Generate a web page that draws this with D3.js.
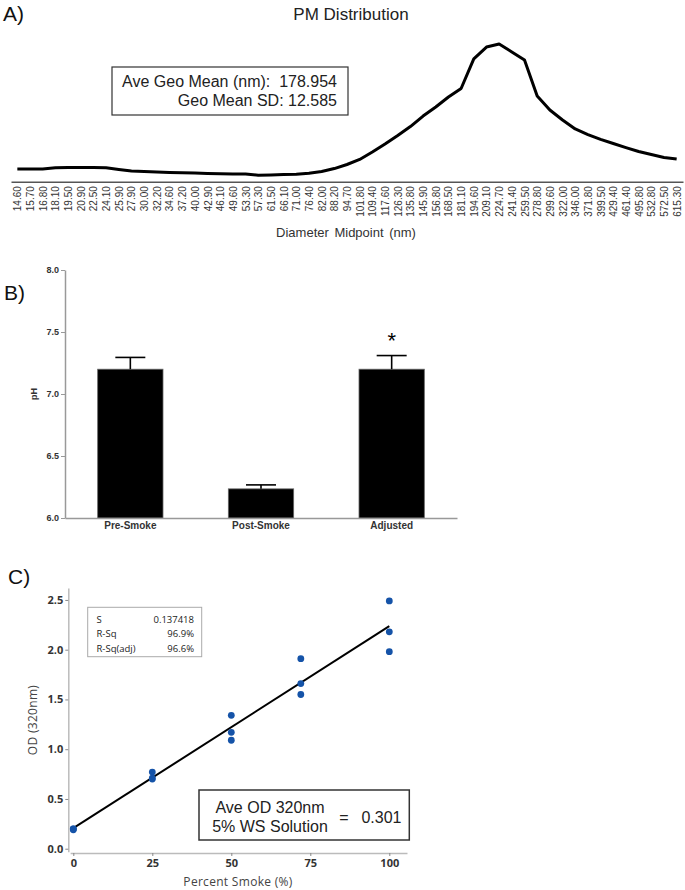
<!DOCTYPE html>
<html><head><meta charset="utf-8">
<script src="https://cdn.jsdelivr.net/npm/d3@7"></script>
<style>body{margin:0;background:#fff} svg{display:block}</style>
</head><body>
<svg id="chart" width="685" height="890"></svg>
<script>
// ---------- Panel A data ----------
const diameterLabels = ["14.60","15.70","16.80","18.10","19.50","20.90","22.50","24.10","25.90","27.90",
  "30.00","32.20","34.60","37.20","40.00","42.90","46.10","49.60","53.30","57.30","61.50","66.10","71.00",
  "76.40","82.00","88.20","94.70","101.80","109.40","117.60","126.30","135.80","145.90","156.80","168.50",
  "181.10","194.60","209.10","224.70","241.40","259.50","278.80","299.60","322.00","346.00","371.80",
  "399.50","429.40","461.40","495.80","532.80","572.50","615.30"];
const pmValues = [0.93,0.93,0.93,1.01,1.04,1.04,1.04,1.01,0.89,0.79,
  0.75,0.71,0.68,0.66,0.64,0.61,0.59,0.57,0.57,0.48,0.50,0.54,0.56,
  0.62,0.75,0.96,1.25,1.61,2.14,2.71,3.32,3.96,4.71,5.36,6.07,
  6.68,8.79,9.64,9.86,9.29,8.71,6.14,5.14,4.43,3.79,3.39,
  3.04,2.75,2.46,2.18,1.96,1.75,1.64];
const pmStats = ["Ave Geo Mean (nm):  178.954", "Geo Mean SD: 12.585"];

// ---------- Panel B data ----------
const phCategories = ["Pre-Smoke","Post-Smoke","Adjusted"];
const phMeans = [7.20, 6.235, 7.20];
const phErrors = [0.095, 0.032, 0.11];
const phTicks = [6.0, 6.5, 7.0, 7.5, 8.0];
const phSignificant = [false, false, true];

// ---------- Panel C data ----------
const smokePercent = [0,0,0,25,25,25,50,50,50,72,72,72,100,100,100];
const odValues = [0.20,0.19,0.20,0.77,0.70,0.71,1.34,1.17,1.09,1.91,1.66,1.55,2.49,2.18,1.98];
const odTicks = [0, 0.5, 1.0, 1.5, 2.0, 2.5];
const smokeTicks = [0, 25, 50, 75, 100];
const fitStatNames = ["S","R-Sq","R-Sq(adj)"];
const fitStatValues = ["0.137418","96.9%","96.6%"];
const odNote = ["Ave OD 320nm","5% WS Solution"];
const odNoteValue = "0.301";

const svg = d3.select("#chart");
const ARIAL = "'Liberation Sans', Arial, sans-serif";
const SEGOE = "'Open Sans', 'Noto Sans', sans-serif";

// ================= PANEL A =================
const gA = svg.append("g");
gA.append("text").attr("x",3).attr("y",21).attr("font-family",ARIAL).attr("font-size",21).attr("fill","#111").text("A)");
gA.append("text").attr("x",351).attr("y",20).attr("text-anchor","middle").attr("font-family",ARIAL)
  .attr("font-size",17).attr("fill","#222").text("PM Distribution");

const xA = d3.scalePoint().domain(diameterLabels).range([11,683]).padding(0.5);
const yA = d3.scaleLinear().domain([0,10]).range([182,42]);
const axA = gA.append("g").attr("transform","translate(0,181.7)")
  .call(d3.axisBottom(xA).tickSize(0).tickSizeOuter(0));
axA.select(".domain").attr("stroke","#555").attr("stroke-width",1.5);
axA.selectAll(".tick text").attr("transform","rotate(-90)").attr("x",-4.5).attr("y",0)
  .attr("dy","0.35em").attr("text-anchor","end").attr("font-family",ARIAL).attr("font-size",10).attr("fill","#333");
gA.append("text").attr("x",346).attr("y",237).attr("text-anchor","middle").attr("font-family",ARIAL)
  .attr("font-size",13).attr("fill","#333").attr("word-spacing",2).text("Diameter Midpoint (nm)");

gA.append("path").datum(pmValues.map((v,i)=>[diameterLabels[i],v]))
  .attr("fill","none").attr("stroke","#000").attr("stroke-width",3).attr("stroke-linejoin","round")
  .attr("d", d3.line().x(d=>xA(d[0])).y(d=>yA(d[1])));

gA.append("rect").attr("x",112).attr("y",67).attr("width",236).attr("height",48)
  .attr("fill","#fff").attr("stroke","#333").attr("stroke-width",1.2);
gA.selectAll("text.stat").data(pmStats).join("text").attr("class","stat")
  .attr("x",337).attr("y",(d,i)=>87.3+i*18.7).attr("text-anchor","end").attr("font-family",ARIAL)
  .attr("font-size",16).attr("fill","#222").attr("xml:space","preserve").style("white-space","pre").text(d=>d);

// ================= PANEL B =================
const gB = svg.append("g");
gB.append("text").attr("x",4).attr("y",300).attr("font-family",ARIAL).attr("font-size",21).attr("fill","#111").text("B)");
const xB = d3.scaleBand().domain(phCategories).range([65,457]).paddingInner(0.5).paddingOuter(0.25);
const yB = d3.scaleLinear().domain([6,8]).range([518,270]);

const axBy = gB.append("g").attr("transform","translate(65,0)")
  .call(d3.axisLeft(yB).tickValues(phTicks).tickFormat(d3.format(".1f")).tickSize(4).tickSizeOuter(0).tickPadding(2));
axBy.select(".domain").attr("stroke","#999").attr("stroke-width",1.5);
axBy.selectAll(".tick line").attr("stroke","#999");
axBy.selectAll(".tick text").attr("font-family",ARIAL).attr("font-size",9).attr("font-weight","bold").attr("fill","#333");

gB.selectAll("rect.bar").data(phCategories).join("rect").attr("class","bar")
  .attr("x",d=>xB(d)).attr("width",xB.bandwidth())
  .attr("y",(d,i)=>yB(phMeans[i])).attr("height",(d,i)=>yB(6)-yB(phMeans[i]))
  .attr("fill","#000").attr("stroke","#666").attr("stroke-width",0.8);

const errG = gB.selectAll("g.err").data(phCategories).join("g").attr("class","err");
errG.append("line").attr("x1",d=>xB(d)+xB.bandwidth()/2).attr("x2",d=>xB(d)+xB.bandwidth()/2)
  .attr("y1",(d,i)=>yB(phMeans[i])).attr("y2",(d,i)=>yB(phMeans[i]+phErrors[i]))
  .attr("stroke","#000").attr("stroke-width",1.6);
errG.append("line").attr("x1",d=>xB(d)+xB.bandwidth()/2-15).attr("x2",d=>xB(d)+xB.bandwidth()/2+15)
  .attr("y1",(d,i)=>yB(phMeans[i]+phErrors[i])).attr("y2",(d,i)=>yB(phMeans[i]+phErrors[i]))
  .attr("stroke","#000").attr("stroke-width",1.6);

gB.selectAll("text.star").data(phCategories.filter((d,i)=>phSignificant[i])).join("text").attr("class","star")
  .attr("x",d=>xB(d)+xB.bandwidth()/2)
  .attr("y",d=>{const i=phCategories.indexOf(d); return yB(phMeans[i]+phErrors[i])-8;})
  .attr("text-anchor","middle").attr("font-family",ARIAL).attr("font-size",22).attr("fill","#000").text("*");

const axBx = gB.append("g").attr("transform","translate(0,518)")
  .call(d3.axisBottom(xB).tickSize(0).tickSizeOuter(0).tickPadding(4));
axBx.select(".domain").attr("stroke","#999").attr("stroke-width",1.5);
axBx.selectAll(".tick text").attr("font-family",ARIAL).attr("font-size",10).attr("font-weight","bold").attr("fill","#333");

gB.append("text").attr("transform","translate(37,394) rotate(-90)").attr("text-anchor","middle")
  .attr("font-family",ARIAL).attr("font-size",9).attr("font-weight","bold").attr("fill","#333").text("pH");

// ================= PANEL C =================
const gC = svg.append("g");
gC.append("text").attr("x",8).attr("y",584).attr("font-family",ARIAL).attr("font-size",21).attr("fill","#111").text("C)");
const xC = d3.scaleLinear().domain([-1,105.6]).range([70.14,407]);
const yC = d3.scaleLinear().domain([-0.03,2.62]).range([851.7,588]);

const axCy = gC.append("g").attr("transform","translate(68.3,0)")
  .call(d3.axisLeft(yC).tickValues(odTicks).tickFormat(d3.format(".1f")).tickSize(3).tickSizeOuter(0).tickPadding(2));
axCy.select(".domain").attr("stroke","#bbb").attr("stroke-width",1.5);
axCy.selectAll(".tick line").attr("stroke","#888");
axCy.selectAll(".tick text").attr("font-family",SEGOE).attr("font-size",11).attr("font-weight","bold").attr("fill","#333");

const axCx = gC.append("g").attr("transform","translate(0,853)")
  .call(d3.axisBottom(xC).tickValues(smokeTicks).tickSize(3).tickSizeOuter(0).tickPadding(3));
axCx.select(".domain").attr("stroke","#bbb").attr("stroke-width",1.5);
axCx.selectAll(".tick line").attr("stroke","#888");
axCx.selectAll(".tick text").attr("font-family",SEGOE).attr("font-size",11).attr("font-weight","bold").attr("fill","#333");

gC.append("text").attr("transform","translate(37,720) rotate(-90)").attr("text-anchor","middle")
  .attr("font-family",SEGOE).attr("font-size",12).attr("fill","#444").attr("letter-spacing",0.3).text("OD (320nm)");
gC.append("text").attr("x",238).attr("y",886).attr("text-anchor","middle")
  .attr("font-family",SEGOE).attr("font-size",12).attr("fill","#444").attr("letter-spacing",0.3).text("Percent Smoke (%)");

// least-squares fit from the data
const mx = d3.mean(smokePercent), my = d3.mean(odValues);
const sxy = d3.sum(smokePercent, (x,i)=>(x-mx)*(odValues[i]-my));
const sxx = d3.sum(smokePercent, x=>(x-mx)*(x-mx));
const slope = sxy/sxx, intercept = my - slope*mx;
const xExt = d3.extent(smokePercent);
gC.append("line").attr("x1",xC(xExt[0])).attr("x2",xC(xExt[1]))
  .attr("y1",yC(intercept+slope*xExt[0])).attr("y2",yC(intercept+slope*xExt[1]))
  .attr("stroke","#000").attr("stroke-width",2);

gC.selectAll("circle.pt").data(odValues).join("circle").attr("class","pt")
  .attr("cx",(d,i)=>xC(smokePercent[i])).attr("cy",d=>yC(d)).attr("r",3.4).attr("fill","#1553a8");

// stats box
gC.append("rect").attr("x",87.7).attr("y",607.3).attr("width",114).attr("height",49.4)
  .attr("fill","#fff").attr("stroke","#aaa").attr("stroke-width",1);
gC.selectAll("text.sn").data(fitStatNames).join("text").attr("class","sn")
  .attr("x",96.5).attr("y",(d,i)=>622.5+i*14.8).attr("font-family",SEGOE).attr("font-size",9.5).attr("fill","#222").text(d=>d);
gC.selectAll("text.sv").data(fitStatValues).join("text").attr("class","sv")
  .attr("x",194).attr("y",(d,i)=>622.5+i*14.8).attr("text-anchor","end").attr("font-family",SEGOE).attr("font-size",9.5).attr("fill","#222").text(d=>d);

// note box
gC.append("rect").attr("x",199).attr("y",790).attr("width",210.3).attr("height",50)
  .attr("fill","#fff").attr("stroke","#333").attr("stroke-width",1.5);
gC.selectAll("text.note").data(odNote).join("text").attr("class","note")
  .attr("x",270).attr("y",(d,i)=>813.3+i*18.4).attr("text-anchor","middle").attr("font-family",ARIAL)
  .attr("font-size",16).attr("fill","#222").text(d=>d);
gC.append("text").attr("x",344).attr("y",823).attr("text-anchor","middle").attr("font-family",ARIAL)
  .attr("font-size",16).attr("fill","#222").text("=");
gC.append("text").attr("x",401.5).attr("y",823).attr("text-anchor","end").attr("font-family",ARIAL)
  .attr("font-size",16).attr("fill","#222").text(odNoteValue);
</script>
</body></html>
